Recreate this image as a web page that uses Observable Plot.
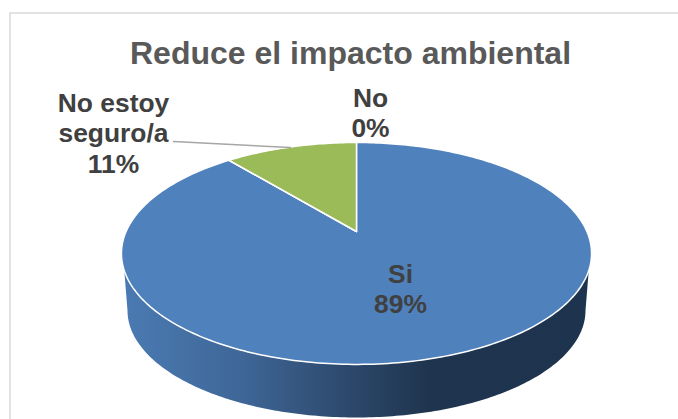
<!DOCTYPE html>
<html>
<head>
<meta charset="utf-8">
<script src="https://cdn.jsdelivr.net/npm/d3@7"></script>
<script src="https://cdn.jsdelivr.net/npm/@observablehq/plot@0.6"></script>
<style>
html,body{margin:0;padding:0;background:#fff;overflow:hidden}
svg{display:block}
</style>
</head>
<body>
<div id="chart"></div>
<script>
const titleText = "Reduce el impacto ambiental";
const categories = ["Si", "No", "No estoy seguro/a"];
const shares = [89, 0, 11];
const colors = ["#4f81bd", "#c0504d", "#9bbb59"];

// Perspective of the tilted disc (pixel size of one disc unit, tip position)
const W = 678, H = 419, tipX = 356, tipY = 231;
const A = 230.4, B = 106.6, k = 0.198;
const fromPxX = p => (p - tipX) / A;
const fromPxY = p => (tipY - p) / B;
const toPxY = y => tipY - y * B;

// Disc angle in degrees, clockwise from the far edge
const rim = deg => {
  const a = deg * Math.PI / 180, u = Math.sin(a), v = Math.cos(a), d = 1 + k * v;
  return {x: u / d, y: v / d};
};

const total = d3.sum(shares);
let acc = 0;
const slices = categories.flatMap((name, i) => {
  const start = acc / total * 360;
  acc += shares[i];
  const end = acc / total * 360;
  const n = Math.max(1, Math.ceil(end - start));
  const pts = [{name, x: 0, y: 0}];
  for (let j = 0; j <= n; ++j) pts.push({name, ...rim(start + (end - start) * j / n)});
  pts.push({name, x: 0, y: 0});
  return pts;
});

// Side wall of the pie: near half of the top rim, then the lower ellipse
const wall = [];
for (let d = 0; d <= 360; d += 0.5) {
  const p = rim(d);
  if (toPxY(p.y) >= 270) wall.push(p);
}
for (let t = 180; t >= 0; t -= 1) {
  const r = t * Math.PI / 180;
  wall.push({x: fromPxX(356 + 229 * Math.cos(r)), y: fromPxY(310 + 107 * Math.sin(r))});
}
wall.push(wall[0]);

const leader = [
  {x: fromPxX(173), y: fromPxY(141)},
  {x: fromPxX(290), y: fromPxY(147)}
];

const gradient = () => d3.create("svg:defs").html(`
  <linearGradient id="wallShade" x1="0" x2="1" y1="0" y2="0">
    <stop offset="0" stop-color="#4a7ab2"/>
    <stop offset="0.25" stop-color="#3f6798"/>
    <stop offset="0.5" stop-color="#2b4668"/>
    <stop offset="0.66" stop-color="#1f344e"/>
    <stop offset="1" stop-color="#1e344e"/>
  </linearGradient>`).node();

const font = "'Liberation Sans', Arial, sans-serif";
const label = (lines, cx, baseline, size) =>
  lines.map((line, i) => Plot.text([line], {
    text: d => d, frameAnchor: "top-left", dx: cx, dy: baseline[i],
    textAnchor: "middle", lineAnchor: "bottom", fontSize: size, fontWeight: "bold",
    fontFamily: font, fill: "#404040"
  }));

const plot = Plot.plot({
  width: W, height: H, margin: 0,
  x: {domain: [fromPxX(0), fromPxX(W)], range: [0, W], axis: null},
  y: {domain: [fromPxY(0), fromPxY(H)], range: [0, H], axis: null},
  style: {background: "#fff"},
  marks: [
    Plot.frame({stroke: "#d9d9d9", strokeWidth: 1.5, insetLeft: 9.5, insetTop: 12.5, insetRight: -5, insetBottom: -5}),
    gradient,
    Plot.line(wall, {x: "x", y: "y", fill: "url(#wallShade)", stroke: "none"}),
    ...categories.map((name, i) => Plot.line(slices.filter(d => d.name === name), {
      x: "x", y: "y", fill: colors[i], stroke: "#fff", strokeWidth: 1.5, strokeLinejoin: "round"
    })),
    Plot.line(leader, {x: "x", y: "y", stroke: "#a6a6a6", strokeWidth: 1.5}),
    Plot.text([titleText], {
      text: d => d, frameAnchor: "top-left", dx: 350, dy: 63, textAnchor: "middle", lineAnchor: "bottom",
      fontSize: 32, fontWeight: "bold", fontFamily: font, fill: "#595959"
    }),
    ...label(["No estoy", "seguro/a", `${shares[2]}%`], 113, [111, 141.5, 172], 26.4),
    ...label([categories[1], `${shares[1]}%`], 370, [106, 136.5], 26.4),
    ...label([categories[0], `${shares[0]}%`], 400, [282, 312], 26.4)
  ]
});
document.getElementById("chart").append(plot);
</script>
</body>
</html>
